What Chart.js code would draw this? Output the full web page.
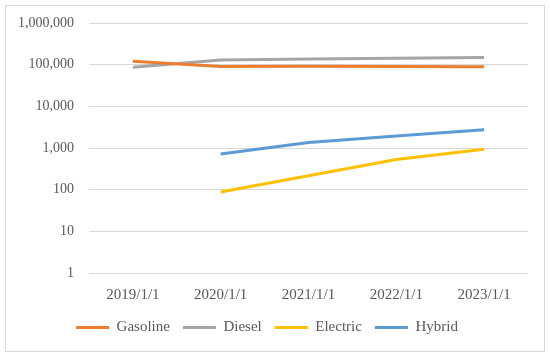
<!DOCTYPE html>
<html>
<head>
<meta charset="utf-8">
<script src="https://cdn.jsdelivr.net/npm/chart.js@4"></script>
<style>
  body { margin: 0; background: #fff; }
  #box { position: absolute; left: 5px; top: 5px; width: 538px; height: 345px; border: 1px solid #d9d9d9; }
</style>
</head>
<body>
<div id="box"><canvas id="chart" width="538" height="345"></canvas></div>
<script>
// Vehicle counts per fuel type (log scale)
const categories = ['2019/1/1', '2020/1/1', '2021/1/1', '2022/1/1', '2023/1/1'];
const gasoline = [120000, 90000, 91000, 90000, 89000];
const diesel = [87000, 130000, 137000, 142000, 148000];
const electric = [null, 88, 215, 530, 930];
const hybrid = [null, 720, 1350, 1950, 2750];
const yTicks = [1, 10, 100, 1000, 10000, 100000, 1000000];

const makeSet = (label, data, color) => ({
    label: label,
    data: data,
    borderColor: color,
    backgroundColor: color,
    borderWidth: 3,
    pointRadius: 0,
    tension: 0,
    spanGaps: false
});

const textColor = '#595959';
Chart.defaults.font.family = '"Liberation Serif", serif';
Chart.defaults.font.size = 14;
Chart.defaults.color = textColor;

new Chart(document.getElementById('chart').getContext('2d'), {
    type: 'line',
    data: {
        labels: categories,
        datasets: [
            makeSet('Gasoline', gasoline, '#ED7D31'),
            makeSet('Diesel', diesel, '#A5A5A5'),
            makeSet('Electric', electric, '#FFC000'),
            makeSet('Hybrid', hybrid, '#5B9BD5')
        ]
    },
    options: {
        responsive: false,
        animation: false,
        layout: { padding: { top: 17, right: 16, bottom: 6, left: 0 } },
        scales: {
            x: {
                offset: true,
                grid: { display: false, drawTicks: false },
                border: { display: false },
                ticks: { padding: 13, maxRotation: 0, font: { size: 15 } },
                afterFit: (scale) => { scale.height = 34; }
            },
            y: {
                type: 'logarithmic',
                min: 1,
                max: 1000000,
                grid: { color: '#d9d9d9', lineWidth: 1, drawTicks: false },
                border: { display: false },
                ticks: {
                    padding: 15,
                    callback: (v) => v.toLocaleString('en-US')
                },
                afterBuildTicks: (scale) => { scale.ticks = yTicks.map(v => ({ value: v })); },
                afterFit: (scale) => {
                    scale.width = 83;
                    scale.paddingTop = 0;
                    scale.paddingBottom = 0;
                }
            }
        },
        plugins: {
            legend: {
                position: 'bottom',
                labels: {
                    boxWidth: 33,
                    boxHeight: 3,
                    padding: 13,
                    color: textColor,
                    font: { size: 15 },
                    generateLabels: (chart) => chart.data.datasets.map((ds, i) => ({
                        text: ds.label,
                        fillStyle: ds.borderColor,
                        strokeStyle: ds.borderColor,
                        lineWidth: 0,
                        fontColor: textColor,
                        datasetIndex: i
                    }))
                }
            },
            tooltip: { enabled: false }
        }
    }
});
</script>
</body>
</html>
